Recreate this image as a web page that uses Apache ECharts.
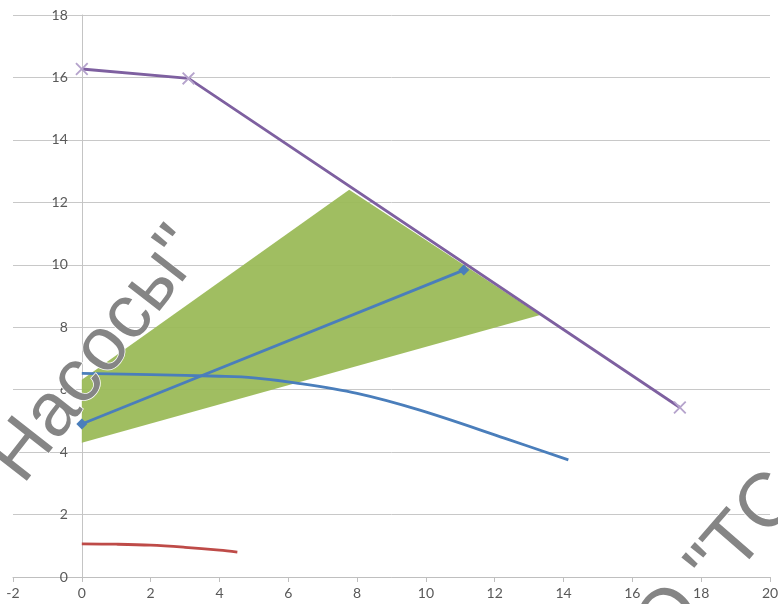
<!DOCTYPE html>
<html>
<head>
<meta charset="utf-8">
<script src="https://cdn.jsdelivr.net/npm/echarts@6/dist/echarts.min.js"></script>
<style>
html,body{margin:0;padding:0;background:#fff;}
#c{width:778px;height:604px;}
</style>
</head>
<body>
<div id="c"></div>
<script>
// Axis ticks
const xTicks = [-2, 0, 2, 4, 6, 8, 10, 12, 14, 16, 18, 20];
const yTicks = [0, 2, 4, 6, 8, 10, 12, 14, 16, 18];

// Green working zone polygon (vertices)
const zoneX = [0, 0, 7.77, 13.32];
const zoneY = [4.3, 6.32, 12.4, 8.39];

// Purple limit line
const limitX = [0, 3.1, 17.38];
const limitY = [16.27, 15.97, 5.43];

// Blue straight line (diamond markers)
const sysX = [0, 11.1];
const sysY = [4.9, 9.83];

// Blue pump curve
const pumpX = [0, 2, 4, 5, 6.2, 8, 9.8, 12.3, 14.14];
const pumpY = [6.52, 6.48, 6.43, 6.38, 6.22, 5.88, 5.35, 4.44, 3.75];

// Red power curve
const powerX = [0, 1, 2, 3, 4, 4.52];
const powerY = [1.06, 1.05, 1.02, 0.95, 0.86, 0.8];

const pair = (xs, ys) => xs.map((x, i) => [x, ys[i]]);

const W = 778, GL = 13, GR = 8;
const xMin = xTicks[0], xMax = xTicks[xTicks.length - 1];
// shift the y axis (line + labels) to x = 0
const yOffset = -((0 - xMin) / (xMax - xMin)) * (W - GL - GR);

const chart = echarts.init(document.getElementById('c'));
const deg = Math.PI / 180;

chart.setOption({
  animation: false,
  backgroundColor: '#ffffff',
  grid: { left: GL, right: GR, top: 15, bottom: 27, containLabel: false, outerBoundsMode: 'none' },
  xAxis: {
    type: 'value',
    min: xMin, max: xMax, interval: 2,
    axisLine: { show: true, onZero: false, lineStyle: { color: '#bfbfbf', width: 1 } },
    axisTick: { show: true, length: 5, lineStyle: { color: '#bfbfbf' } },
    splitLine: { show: false },
    axisLabel: { color: '#595959', fontSize: 14, fontFamily: 'Lato', margin: 9 }
  },
  yAxis: {
    type: 'value',
    position: 'left',
    offset: yOffset,
    min: yTicks[0], max: yTicks[yTicks.length - 1], interval: 2,
    axisLine: { show: true, onZero: false, lineStyle: { color: '#c4c4c4', width: 1 } },
    axisTick: { show: false },
    splitLine: { show: true, lineStyle: { color: '#c8c8c8', width: 1 } },
    axisLabel: { color: '#595959', fontSize: 14, fontFamily: 'Lato', margin: 14 }
  },
  series: [
    {
      type: 'custom',
      z: 1,
      data: [[zoneX[0], zoneY[0]]],
      renderItem: function (params, api) {
        const pts = zoneX.map((x, i) => api.coord([x, zoneY[i]]));
        return {
          type: 'polygon',
          shape: { points: pts },
          style: { fill: '#9bbb59', opacity: 0.95 }
        };
      },
      silent: true
    },
    {
      type: 'line',
      z: 3,
      data: pair(pumpX, pumpY),
      smooth: 0.35,
      showSymbol: false,
      lineStyle: { color: '#4a7ebb', width: 2.8 },
      itemStyle: { color: '#4a7ebb' }
    },
    {
      type: 'line',
      z: 4,
      data: pair(sysX, sysY),
      symbol: 'diamond',
      symbolSize: 11,
      lineStyle: { color: '#4a7ebb', width: 2.8 },
      itemStyle: { color: '#4a7ebb' }
    },
    {
      type: 'line',
      z: 3,
      data: pair(powerX, powerY),
      smooth: 0.35,
      showSymbol: false,
      lineStyle: { color: '#be4b48', width: 2.8 },
      itemStyle: { color: '#be4b48' }
    },
    {
      type: 'line',
      z: 5,
      data: pair(limitX, limitY),
      symbol: 'path://M0,1L1,0L5,4L9,0L10,1L6,5L10,9L9,10L5,6L1,10L0,9L4,5Z',
      symbolSize: 13,
      lineStyle: { color: '#7e60a0', width: 2.8 },
      itemStyle: { color: '#b5a3cc' }
    }
  ],
  graphic: [
    {
      type: 'text',
      x: 90, y: 366,
      rotation: 52 * deg,
      z: 100,
      style: {
        text: '"Насосы"',
        fontSize: 76,
        fontFamily: 'Liberation Sans',
        fill: '#858585',
        stroke: '#ffffff',
        lineWidth: 1.5,
        textAlign: 'center',
        textVerticalAlign: 'middle'
      }
    },
    {
      type: 'text',
      x: 680, y: 607,
      rotation: 49 * deg,
      z: 100,
      style: {
        text: 'ООО "ТС',
        fontSize: 76,
        fontFamily: 'Liberation Sans',
        fill: '#858585',
        stroke: '#ffffff',
        lineWidth: 1.5,
        textAlign: 'center',
        textVerticalAlign: 'middle'
      }
    }
  ]
});
</script>
</body>
</html>
